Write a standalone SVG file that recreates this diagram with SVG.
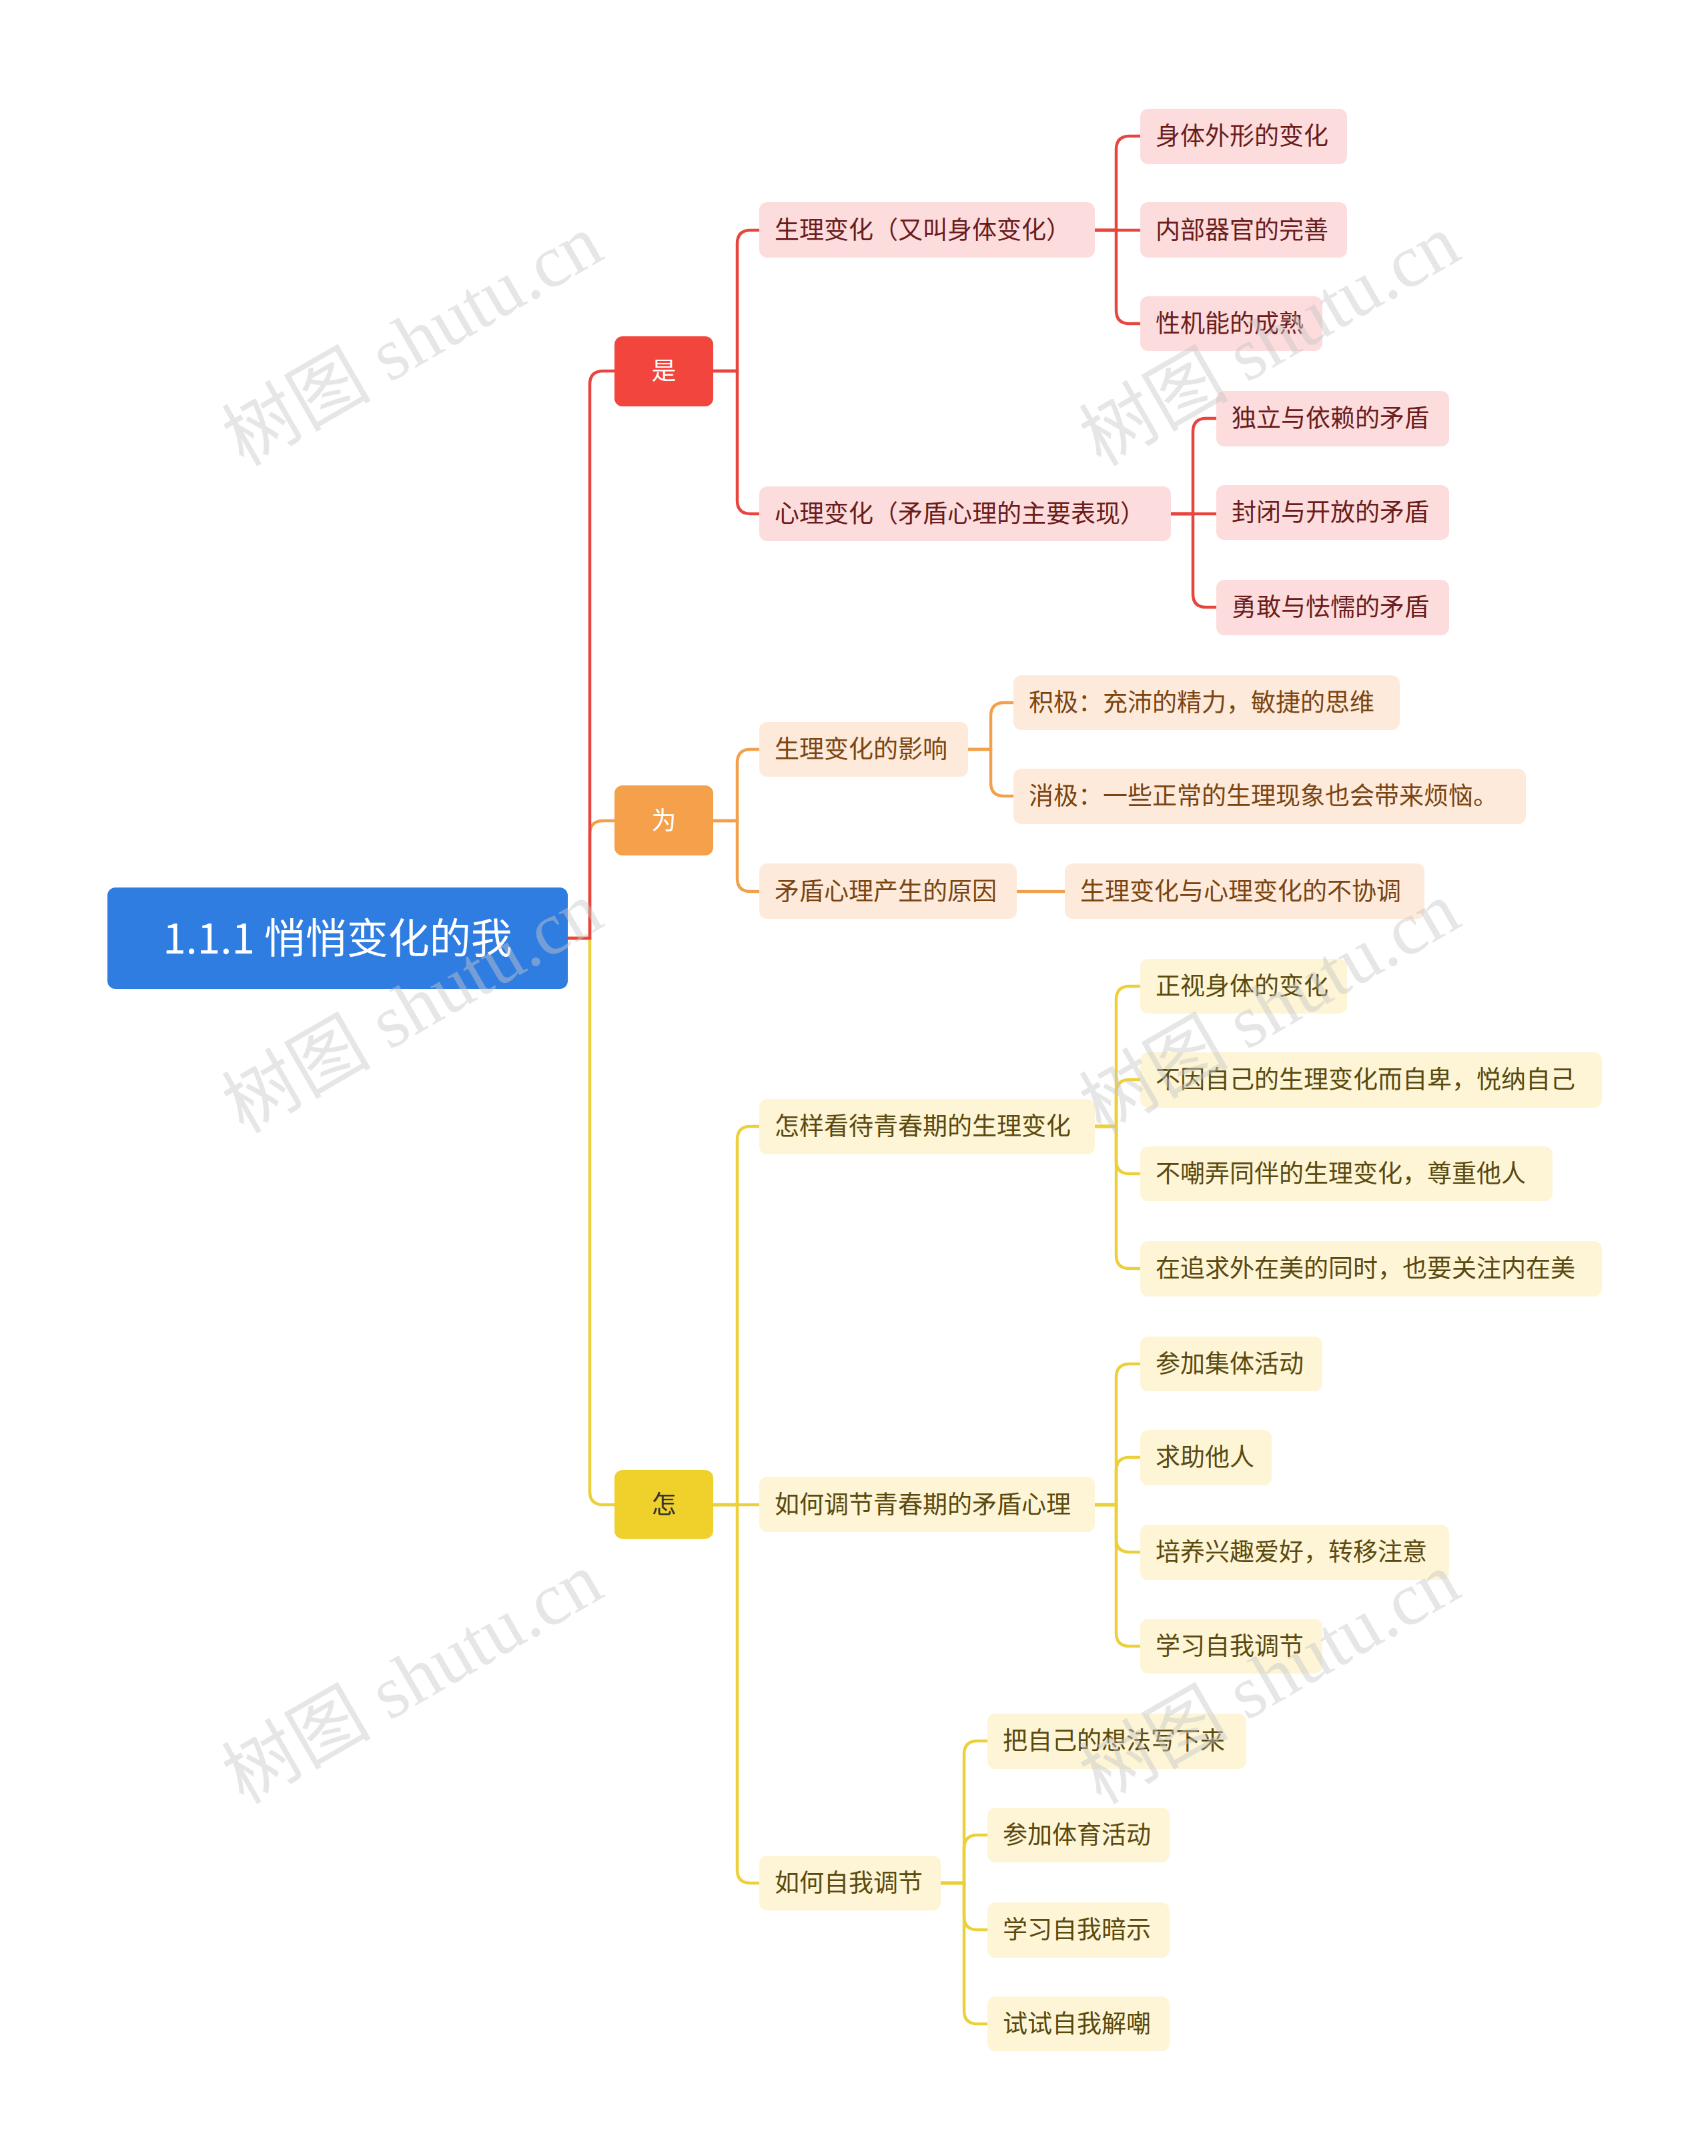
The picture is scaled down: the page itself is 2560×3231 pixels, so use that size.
<svg xmlns="http://www.w3.org/2000/svg" width="2560" height="3231" viewBox="0 0 2560 3231">
<style>
text{font-family:"Noto Sans CJK SC","Noto Sans",sans-serif;font-size:37px}
.r rect{fill:#fcdcdc}.r text{fill:#6b1d1d}
.o rect{fill:#fdeadb}.o text{fill:#7a4512}
.y rect{fill:#fdf5d6}.y text{fill:#5a4a10}
.c path{fill:none;stroke-width:4.5;stroke-linecap:round}
.cr path{stroke:#e8453f}.co path{stroke:#f2a04b}.cy path{stroke:#ecd03a}
.wm{fill:#c8c8c8;opacity:.45;font-family:"Liberation Serif","Noto Sans CJK SC",serif;font-size:112px}
</style>
<rect width="2560" height="3231" fill="#fff"/>
<g id="connectors" class="c">
<g class="cy"><path d="M851 1406 H884 V2235 Q884 2255 904 2255 H921"/>
<path d="M1069 2255 H1105 V1708 Q1105 1688 1125 1688 H1138"/><path d="M1069 2255 H1138"/><path d="M1069 2255 H1105 V2802 Q1105 2822 1125 2822 H1138"/>
<path d="M1641 1688 H1673 V1498 Q1673 1478 1693 1478 H1709"/><path d="M1641 1688 H1673 V1638 Q1673 1618 1693 1618 H1709"/><path d="M1641 1688 H1673 V1739 Q1673 1759 1693 1759 H1709"/><path d="M1641 1688 H1673 V1881 Q1673 1901 1693 1901 H1709"/>
<path d="M1641 2255 H1673 V2064 Q1673 2044 1693 2044 H1709"/><path d="M1641 2255 H1673 V2204 Q1673 2184 1693 2184 H1709"/><path d="M1641 2255 H1673 V2306 Q1673 2326 1693 2326 H1709"/><path d="M1641 2255 H1673 V2447 Q1673 2467 1693 2467 H1709"/>
<path d="M1410 2822 H1445 V2629 Q1445 2609 1465 2609 H1480"/><path d="M1410 2822 H1445 V2770 Q1445 2750 1465 2750 H1480"/><path d="M1410 2822 H1445 V2872 Q1445 2892 1465 2892 H1480"/><path d="M1410 2822 H1445 V3013 Q1445 3033 1465 3033 H1480"/></g>
<g class="co"><path d="M851 1406 H884 V1250 Q884 1230 904 1230 H921"/>
<path d="M1069 1230 H1105 V1143 Q1105 1123 1125 1123 H1138"/><path d="M1069 1230 H1105 V1316 Q1105 1336 1125 1336 H1138"/>
<path d="M1451 1123 H1485 V1073 Q1485 1053 1505 1053 H1519"/><path d="M1451 1123 H1485 V1173 Q1485 1193 1505 1193 H1519"/><path d="M1524 1336 H1596"/></g>
<g class="cr"><path d="M851 1406 H884 V576 Q884 556 904 556 H921"/>
<path d="M1069 556 H1105 V365 Q1105 345 1125 345 H1138"/><path d="M1069 556 H1105 V750 Q1105 770 1125 770 H1138"/>
<path d="M1641 345 H1673 V224 Q1673 204 1693 204 H1709"/><path d="M1641 345 H1709"/><path d="M1641 345 H1673 V465 Q1673 485 1693 485 H1709"/>
<path d="M1755 770 H1788 V647 Q1788 627 1808 627 H1823"/><path d="M1755 770 H1823"/><path d="M1755 770 H1788 V890 Q1788 910 1808 910 H1823"/></g>
</g>
<g id="root"><rect x="161" y="1330" width="690" height="152" rx="12" fill="#2f7de1"/><text x="506" y="1429" text-anchor="middle" fill="#fff" style="font-size:62px">1.1.1 悄悄变化的我</text></g>
<g id="n-shi"><rect x="921" y="504" width="148" height="105" rx="12" fill="#f2453d"/><text x="995" y="569" text-anchor="middle" fill="#fff">是</text></g>
<g id="n-wei"><rect x="921" y="1177" width="148" height="105" rx="12" fill="#f5a04a"/><text x="995" y="1243" text-anchor="middle" fill="#fff">为</text></g>
<g id="n-zen"><rect x="921" y="2203" width="148" height="103" rx="12" fill="#f0d02a"/><text x="995" y="2268" text-anchor="middle" fill="#333">怎</text></g>
<g class="r">
<g id="r1"><rect x="1138" y="303" width="503" height="83" rx="12"/><text x="1161" y="358">生理变化（又叫身体变化）</text></g>
<g id="r2"><rect x="1138" y="729" width="617" height="82" rx="12"/><text x="1161" y="783">心理变化（矛盾心理的主要表现）</text></g>
<g id="r11"><rect x="1709" y="163" width="310" height="83" rx="12"/><text x="1732" y="217">身体外形的变化</text></g>
<g id="r12"><rect x="1709" y="303" width="310" height="83" rx="12"/><text x="1732" y="358">内部器官的完善</text></g>
<g id="r13"><rect x="1709" y="444" width="273" height="82" rx="12"/><text x="1732" y="498">性机能的成熟</text></g>
<g id="r21"><rect x="1823" y="586" width="349" height="83" rx="12"/><text x="1846" y="640">独立与依赖的矛盾</text></g>
<g id="r22"><rect x="1823" y="727" width="349" height="82" rx="12"/><text x="1846" y="781">封闭与开放的矛盾</text></g>
<g id="r23"><rect x="1823" y="869" width="349" height="83" rx="12"/><text x="1846" y="923">勇敢与怯懦的矛盾</text></g>
</g>
<g class="o">
<g id="o1"><rect x="1138" y="1082" width="313" height="82" rx="12"/><text x="1161" y="1136">生理变化的影响</text></g>
<g id="o2"><rect x="1138" y="1294" width="386" height="83" rx="12"/><text x="1161" y="1349">矛盾心理产生的原因</text></g>
<g id="o11"><rect x="1519" y="1012" width="579" height="82" rx="12"/><text x="1542" y="1066">积极：充沛的精力，敏捷的思维</text></g>
<g id="o12"><rect x="1519" y="1152" width="768" height="83" rx="12"/><text x="1542" y="1206">消极：一些正常的生理现象也会带来烦恼。</text></g>
<g id="o21"><rect x="1596" y="1294" width="539" height="83" rx="12"/><text x="1619" y="1349">生理变化与心理变化的不协调</text></g>
</g>
<g class="y">
<g id="y1"><rect x="1138" y="1647" width="503" height="83" rx="12"/><text x="1161" y="1701">怎样看待青春期的生理变化</text></g>
<g id="y2"><rect x="1138" y="2213" width="503" height="83" rx="12"/><text x="1161" y="2268">如何调节青春期的矛盾心理</text></g>
<g id="y3"><rect x="1138" y="2781" width="272" height="82" rx="12"/><text x="1161" y="2835">如何自我调节</text></g>
<g id="y11"><rect x="1709" y="1437" width="310" height="82" rx="12"/><text x="1732" y="1491">正视身体的变化</text></g>
<g id="y12"><rect x="1709" y="1577" width="692" height="83" rx="12"/><text x="1732" y="1631">不因自己的生理变化而自卑，悦纳自己</text></g>
<g id="y13"><rect x="1709" y="1718" width="618" height="82" rx="12"/><text x="1732" y="1772">不嘲弄同伴的生理变化，尊重他人</text></g>
<g id="y14"><rect x="1709" y="1860" width="692" height="83" rx="12"/><text x="1732" y="1914">在追求外在美的同时，也要关注内在美</text></g>
<g id="y21"><rect x="1709" y="2003" width="273" height="82" rx="12"/><text x="1732" y="2057">参加集体活动</text></g>
<g id="y22"><rect x="1709" y="2143" width="197" height="83" rx="12"/><text x="1732" y="2197">求助他人</text></g>
<g id="y23"><rect x="1709" y="2285" width="463" height="83" rx="12"/><text x="1732" y="2339">培养兴趣爱好，转移注意</text></g>
<g id="y24"><rect x="1709" y="2426" width="273" height="82" rx="12"/><text x="1732" y="2480">学习自我调节</text></g>
<g id="y31"><rect x="1480" y="2568" width="388" height="83" rx="12"/><text x="1503" y="2622">把自己的想法写下来</text></g>
<g id="y32"><rect x="1480" y="2709" width="273" height="82" rx="12"/><text x="1503" y="2763">参加体育活动</text></g>
<g id="y33"><rect x="1480" y="2851" width="273" height="83" rx="12"/><text x="1503" y="2905">学习自我暗示</text></g>
<g id="y34"><rect x="1480" y="2992" width="273" height="82" rx="12"/><text x="1503" y="3046">试试自我解嘲</text></g>
</g>
<g id="watermarks">
<text class="wm" transform="translate(365 700) rotate(-30)">树图 shutu.cn</text>
<text class="wm" transform="translate(1650 700) rotate(-30)">树图 shutu.cn</text>
<text class="wm" transform="translate(365 1700) rotate(-30)">树图 shutu.cn</text>
<text class="wm" transform="translate(1650 1700) rotate(-30)">树图 shutu.cn</text>
<text class="wm" transform="translate(365 2705) rotate(-30)">树图 shutu.cn</text>
<text class="wm" transform="translate(1650 2705) rotate(-30)">树图 shutu.cn</text>
</g>
</svg>
